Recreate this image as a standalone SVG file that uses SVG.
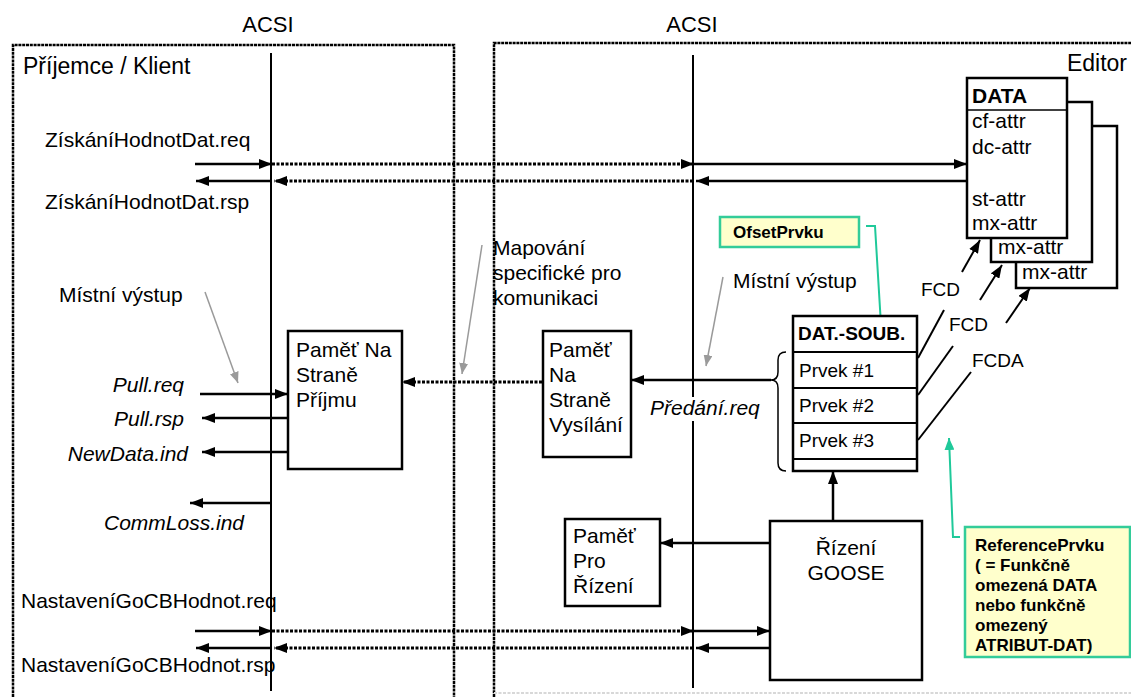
<svg xmlns="http://www.w3.org/2000/svg" width="1131" height="697" viewBox="0 0 1131 697">
<defs>
<marker id="ah" markerWidth="13" markerHeight="10" refX="13" refY="5" orient="auto" markerUnits="userSpaceOnUse"><path d="M0,0 L13,5 L0,10 z" fill="#000"/></marker>
<marker id="ahg" markerWidth="11" markerHeight="9" refX="11" refY="4.5" orient="auto" markerUnits="userSpaceOnUse"><path d="M0,0 L11,4.5 L0,9 z" fill="#9a9a9a"/></marker>
<marker id="ahgr" markerWidth="12" markerHeight="10" refX="12" refY="5" orient="auto" markerUnits="userSpaceOnUse"><path d="M0,0 L12,5 L0,10 z" fill="#1fc99a"/></marker>
</defs>
<style>
text{font-family:"Liberation Sans",Arial,sans-serif;fill:#000}
.t{font-size:21px}
.i{font-size:21px;font-style:italic}
.s{font-size:19px}
.b{font-weight:bold}
.g{font-size:17px;font-weight:bold}
.box{fill:#fff;stroke:#000;stroke-width:2.5}
.frame{fill:none;stroke:#000;stroke-width:2.5;stroke-dasharray:3 0.8}
.life{stroke:#000;stroke-width:2;fill:none}
.sol{stroke:#000;stroke-width:2.5;fill:none}
.dot{stroke:#000;stroke-width:3;stroke-dasharray:3 1.5;fill:none}
.gray{stroke:#9a9a9a;stroke-width:1.5;fill:none}
.grn{stroke:#1fc99a;stroke-width:2;fill:none}
.note{fill:#ffffcc;stroke:#33cc99;stroke-width:2.5}
.thin{stroke:#000;stroke-width:2;fill:none}
</style>
<rect width="1131" height="697" fill="#fff"/>

<g id="frames">
<path class="frame" d="M13,697 L13,45 L454,45 L454,697"/>
<path class="frame" d="M494,697 L494,43 L1131,43"/>
<line x1="494" y1="693" x2="1131" y2="693" stroke="#d8d8d8" stroke-width="2" stroke-dasharray="3 1.5"/>
<text class="t" x="268" y="32" text-anchor="middle" style="font-size:22px">ACSI</text>
<text class="t" x="692" y="32" text-anchor="middle" style="font-size:22px">ACSI</text>
<text class="t" x="23" y="74" style="font-size:23px">Příjemce / Klient</text>
<text class="t" x="1127" y="71" text-anchor="end" style="font-size:23px">Editor</text>
</g>

<g id="lifelines">
<line class="life" x1="271" y1="53" x2="271" y2="691"/>
<line class="life" x1="693" y1="55" x2="693" y2="688"/>
</g>

<g id="connectors">
<line class="sol" x1="195" y1="164" x2="272" y2="164" marker-end="url(#ah)"/>
<line class="dot" x1="272" y1="164" x2="694" y2="164" marker-end="url(#ah)"/>
<line class="sol" x1="694" y1="164" x2="967" y2="164" marker-end="url(#ah)"/>
<line class="sol" x1="967" y1="181" x2="696" y2="181" marker-end="url(#ah)"/>
<line class="dot" x1="693" y1="181" x2="274" y2="181" marker-end="url(#ah)"/>
<line class="sol" x1="271" y1="181" x2="196" y2="181" marker-end="url(#ah)"/>
<line class="sol" x1="200" y1="394" x2="288" y2="394" marker-end="url(#ah)"/>
<line class="sol" x1="288" y1="418" x2="202" y2="418" marker-end="url(#ah)"/>
<line class="sol" x1="288" y1="452" x2="202" y2="452" marker-end="url(#ah)"/>
<line class="sol" x1="271" y1="503" x2="190" y2="503" marker-end="url(#ah)"/>
<line class="dot" x1="542" y1="382" x2="402" y2="382" marker-end="url(#ah)"/>
<line class="sol" x1="771" y1="380" x2="631" y2="380" marker-end="url(#ah)"/>
<path class="thin" style="stroke-width:1.5" d="M786,352 Q778,352 778,360 L778,372 Q778,380 771,380 Q778,380 778,388 L778,463 Q778,471 786,471"/>
<line class="sol" x1="833" y1="521" x2="833" y2="471" marker-end="url(#ah)"/>
<line class="sol" x1="770" y1="543" x2="660" y2="543" marker-end="url(#ah)"/>
<line class="sol" x1="195" y1="631" x2="272" y2="631" marker-end="url(#ah)"/>
<line class="dot" x1="272" y1="631" x2="694" y2="631" marker-end="url(#ah)"/>
<line class="sol" x1="694" y1="631" x2="770" y2="631" marker-end="url(#ah)"/>
<line class="sol" x1="770" y1="648" x2="696" y2="648" marker-end="url(#ah)"/>
<line class="dot" x1="693" y1="648" x2="274" y2="648" marker-end="url(#ah)"/>
<line class="sol" x1="271" y1="648" x2="196" y2="648" marker-end="url(#ah)"/>
<line class="gray" x1="205" y1="292" x2="238" y2="383" marker-end="url(#ahg)"/>
<line class="gray" x1="482" y1="245" x2="462" y2="374" marker-end="url(#ahg)"/>
<line class="gray" x1="723" y1="277" x2="706" y2="366" marker-end="url(#ahg)"/>
<line class="thin" x1="918" y1="358" x2="944" y2="310"/>
<line class="thin" x1="962" y1="272" x2="980" y2="240" marker-end="url(#ah)"/>
<line class="thin" x1="918" y1="395" x2="953" y2="346"/>
<line class="thin" x1="980" y1="300" x2="1002" y2="265" marker-end="url(#ah)"/>
<line class="thin" x1="918" y1="440" x2="971" y2="372"/>
<line class="thin" x1="1006" y1="323" x2="1030" y2="288" marker-end="url(#ah)"/>
<polyline class="grn" points="866,226 875,226 883,358" marker-end="url(#ahgr)"/>
<polyline class="grn" points="960,537 953,537 949,438" marker-end="url(#ahgr)"/>
</g>

<g id="labels">
<text class="t" x="45" y="147">ZískáníHodnotDat.req</text>
<text class="t" x="45" y="209">ZískáníHodnotDat.rsp</text>
<text class="t" x="59" y="302">Místní výstup</text>
<text class="i" x="184" y="392" text-anchor="end">Pull.req</text>
<text class="i" x="184" y="426" text-anchor="end">Pull.rsp</text>
<text class="i" x="188" y="461" text-anchor="end">NewData.ind</text>
<text class="i" x="104" y="530">CommLoss.ind</text>
<text class="t" x="21" y="608">NastaveníGoCBHodnot.req</text>
<text class="t" x="21" y="672">NastaveníGoCBHodnot.rsp</text>
<text class="t" x="493" y="255">Mapování</text>
<text class="t" x="493" y="280">specifické pro</text>
<text class="t" x="493" y="305">komunikaci</text>
<text class="t" x="733" y="288">Místní výstup</text>
<rect x="648" y="397" width="114" height="24" fill="#fff"/>
<text class="i" x="650" y="415">Předání.req</text>
<text class="s" x="921" y="296">FCD</text>
<text class="s" x="949" y="331">FCD</text>
<text class="s" x="972" y="367">FCDA</text>
</g>

<g id="data-stack">
<rect class="box" x="1016" y="126" width="101" height="162"/>
<rect class="box" x="991" y="102" width="101" height="160"/>
<rect class="box" x="967" y="78" width="100" height="160"/>
<line class="thin" x1="967" y1="110" x2="1067" y2="110" style="stroke-width:1.5"/>
<text class="t b" x="972" y="103">DATA</text>
<text class="t" x="972" y="128">cf-attr</text>
<text class="t" x="972" y="154">dc-attr</text>
<text class="t" x="972" y="206">st-attr</text>
<text class="t" x="972" y="230">mx-attr</text>
<text class="t" x="998" y="254">mx-attr</text>
<text class="t" x="1022" y="279">mx-attr</text>
</g>

<g id="pamet-prijmu">
<rect class="box" x="288" y="331" width="114" height="138"/>
<text class="t" x="296" y="357">Paměť Na</text>
<text class="t" x="296" y="382">Straně</text>
<text class="t" x="296" y="407">Příjmu</text>
</g>

<g id="pamet-vysilani">
<rect class="box" x="543" y="331" width="88" height="126"/>
<text class="t" x="549" y="357">Paměť</text>
<text class="t" x="549" y="382">Na</text>
<text class="t" x="549" y="407">Straně</text>
<text class="t" x="549" y="432">Vysílání</text>
</g>

<g id="dat-soub">
<rect class="box" x="793" y="316" width="124" height="155"/>
<line class="thin" x1="793" y1="352" x2="917" y2="352"/>
<line class="thin" x1="793" y1="388" x2="917" y2="388"/>
<line class="thin" x1="793" y1="423" x2="917" y2="423"/>
<line class="thin" x1="793" y1="459" x2="917" y2="459"/>
<text class="s b" x="798" y="340">DAT.-SOUB.</text>
<text class="s" x="799" y="377">Prvek #1</text>
<text class="s" x="799" y="412">Prvek #2</text>
<text class="s" x="799" y="447">Prvek #3</text>
</g>

<g id="rizeni-goose">
<rect class="box" x="770" y="521" width="152" height="159"/>
<text class="t" x="846" y="555" text-anchor="middle">Řízení</text>
<text class="t" x="846" y="580" text-anchor="middle">GOOSE</text>
</g>

<g id="pamet-rizeni">
<rect class="box" x="565" y="519" width="95" height="87"/>
<text class="t" x="573" y="543">Paměť</text>
<text class="t" x="573" y="568">Pro</text>
<text class="t" x="573" y="593">Řízení</text>
</g>

<g id="ofset-prvku">
<rect class="note" x="720" y="217" width="139" height="30"/>
<text class="g" x="733" y="238">OfsetPrvku</text>
</g>

<g id="reference-prvku">
<rect class="note" x="965" y="527" width="165" height="130"/>
<text class="g" x="975" y="551">ReferencePrvku</text>
<text class="g" x="975" y="571">( = Funkčně</text>
<text class="g" x="975" y="591">omezená DATA</text>
<text class="g" x="975" y="611">nebo funkčně</text>
<text class="g" x="975" y="631">omezený</text>
<text class="g" x="975" y="651">ATRIBUT-DAT)</text>
</g>
</svg>
